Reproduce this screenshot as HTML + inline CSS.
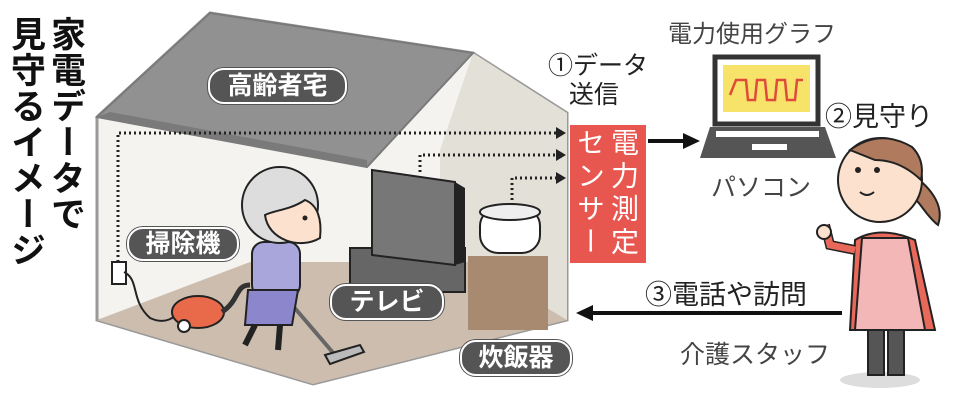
<!DOCTYPE html>
<html><head><meta charset="utf-8"><style>
body{margin:0;width:957px;height:400px;background:#fff;overflow:hidden;position:relative;font-family:"Liberation Sans","Noto Sans CJK JP",sans-serif}
.t{position:absolute;white-space:nowrap;color:#222}
.v{position:absolute;writing-mode:vertical-rl;font-weight:bold;color:#111;font-size:35px;line-height:38px;letter-spacing:1px}
.s{position:absolute;writing-mode:vertical-rl;color:#fff;font-size:28px;line-height:30px;letter-spacing:5px;white-space:nowrap}
.pill{position:absolute;background:#555;color:#fff;border:2px solid #fff;box-shadow:0 0 0 1px #555;border-radius:16px;text-align:center;font-size:25px;font-weight:bold}
</style></head><body>
<svg width="957" height="400" style="position:absolute;left:0;top:0">
<polygon points="97,117 210,13 473,53 567,113 567,320 313,384 97,320" fill="#f4f3ef" stroke="#999" stroke-width="3"/>
<polygon points="473,53 567,113 567,320 440,320 440,150" fill="#e3e0d8"/>
<polygon points="97,320 250,262 470,262 567,320 313,384" fill="#cdbdae"/>
<polygon points="97,117 210,13 473,53 367,167" fill="#919191" stroke="#7a7a7a" stroke-width="2"/>
<polygon points="97,117 367,167 367,160 110,112" fill="#7a7a7a"/>
<g stroke="#222" stroke-width="3" stroke-dasharray="2,3" fill="none">
<polyline points="118,262 118,133 556,133"/>
<polyline points="420,172 420,155 556,155"/>
<polyline points="512,205 512,178 556,178"/>
</g>
<g fill="#222"><polygon points="556,127 566,133 556,139"/><polygon points="556,149 566,155 556,161"/><polygon points="556,172 566,178 556,184"/></g>
<rect x="112" y="262" width="14" height="22" fill="#fff" stroke="#222" stroke-width="2"/>
<path d="M124,272 C140,280 130,300 150,318 C165,325 175,318 180,310" stroke="#222" stroke-width="2" fill="none"/>
<ellipse cx="198" cy="312" rx="26" ry="16" fill="#e86a4a" stroke="#222" stroke-width="2"/>
<circle cx="184" cy="326" r="6" fill="#fff" stroke="#222" stroke-width="2"/>
<path d="M222,312 C240,300 235,285 250,285" stroke="#333" stroke-width="5" fill="none"/>
<line x1="275" y1="285" x2="335" y2="355" stroke="#666" stroke-width="4"/>
<polygon points="325,355 360,345 364,352 330,364" fill="#bbb" stroke="#222" stroke-width="2"/>
<rect x="252" y="242" width="48" height="55" rx="12" fill="#a9a6dc" stroke="#222" stroke-width="2"/>
<path d="M248,290 L298,290 L292,325 L245,325 Z" fill="#8c87cc" stroke="#222" stroke-width="2"/>
<line x1="255" y1="325" x2="245" y2="345" stroke="#222" stroke-width="6"/>
<line x1="280" y1="325" x2="278" y2="350" stroke="#222" stroke-width="6"/>
<circle cx="280" cy="205" r="38" fill="#ddd" stroke="#222" stroke-width="2"/>
<path d="M265,215 C268,240 300,250 320,238 C322,220 318,205 305,200 C290,210 275,210 265,215Z" fill="#fce1cf" stroke="#222" stroke-width="2"/>
<circle cx="305" cy="218" r="2.5" fill="#222"/>
<rect x="350" y="248" width="115" height="44" fill="#666" stroke="#222" stroke-width="2"/>
<polygon points="372,170 455,182 455,265 372,255" fill="#777" stroke="#222" stroke-width="2"/>
<polygon points="455,182 465,188 465,262 455,265" fill="#222"/>
<rect x="468" y="256" width="80" height="74" fill="#a88a70"/>
<rect x="480" y="208" width="60" height="45" rx="18" fill="#fff" stroke="#222" stroke-width="2"/>
<ellipse cx="510" cy="212" rx="30" ry="8" fill="#eee" stroke="#222" stroke-width="2"/>
<rect x="570" y="125" width="76" height="138" fill="#e8574f"/>
<line x1="648" y1="141" x2="683" y2="141" stroke="#111" stroke-width="4"/>
<polygon points="683,133 700,141 683,149" fill="#111"/>
<line x1="842" y1="313" x2="593" y2="313" stroke="#111" stroke-width="4"/>
<polygon points="593,305 576,313 593,321" fill="#111"/>
<rect x="715" y="57" width="103" height="67" fill="#fff" stroke="#333" stroke-width="5"/>
<rect x="723" y="65" width="87" height="47" fill="#f7e36a"/>
<path d="M730,95 L736,80 L746,80 L748,100 L755,100 L757,80 L765,80 L767,100 L775,100 L777,80 L785,80 L787,100 L795,100 L797,80 L803,80" stroke="#e04a3a" stroke-width="2.5" fill="none"/>
<polygon points="710,127 825,127 836,158 700,158" fill="#555"/>
<rect x="716" y="131" width="103" height="6" fill="#fff"/>
<rect x="752" y="144" width="35" height="6" fill="#fff"/>
<ellipse cx="880" cy="380" rx="40" ry="8" fill="#ddd"/>
<rect x="868" y="320" width="16" height="55" fill="#555" stroke="#222" stroke-width="2"/>
<rect x="888" y="320" width="16" height="55" fill="#555" stroke="#222" stroke-width="2"/>
<path d="M855,240 Q880,225 915,240 L935,330 L850,330 Z" fill="#e8685a" stroke="#222" stroke-width="2"/>
<path d="M862,238 L908,238 L925,330 L855,330 Z" fill="#f4b7b7" stroke="#222" stroke-width="2"/>
<path d="M855,250 L830,245 L825,225" stroke="#222" stroke-width="10" fill="none"/>
<path d="M855,250 L830,245 L825,225" stroke="#e8685a" stroke-width="7" fill="none"/>
<circle cx="824" cy="232" r="7" fill="#fce1cf" stroke="#222" stroke-width="2"/>
<path d="M905,170 C930,185 945,205 938,225 C925,215 920,200 905,190Z" fill="#b07a5f" stroke="#222" stroke-width="2"/>
<circle cx="880" cy="180" r="42" fill="#fce1cf" stroke="#222" stroke-width="2"/>
<path d="M850,150 Q880,128 912,147 Q925,160 921,180 Q900,160 875,160Z" fill="#b07a5f" stroke="#222" stroke-width="2"/>
<circle cx="858" cy="170" r="3" fill="#222"/><circle cx="877" cy="170" r="3" fill="#222"/>
<path d="M860,192 Q867,198 874,192" stroke="#222" stroke-width="2" fill="none"/>
</svg>
<div class="v" style="left:46px;top:16px">家電データで</div>
<div class="v" style="left:6px;top:16px">見守るイメージ</div>
<div class="pill" style="left:208px;top:68px;width:135px;height:32px;line-height:32px">高齢者宅</div>
<div class="pill" style="left:127px;top:227px;width:108px;height:30px;line-height:30px">掃除機</div>
<div class="pill" style="left:330px;top:284px;width:110px;height:32px;line-height:32px">テレビ</div>
<div class="pill" style="left:460px;top:340px;width:108px;height:32px;line-height:32px">炊飯器</div>
<div class="s" style="left:608px;top:128px">電力測定</div>
<div class="s" style="left:574px;top:128px">センサー</div>
<div class="t" style="left:548px;top:52px;font-size:25px;line-height:29px">①データ<br>&nbsp;&nbsp;&nbsp;送信</div>
<div class="t" style="left:668px;top:14px;font-size:24px;color:#444">電力使用グラフ</div>
<div class="t" style="left:711px;top:168px;font-size:25px;color:#444">パソコン</div>
<div class="t" style="left:825px;top:95px;font-size:27px">②見守り</div>
<div class="t" style="left:645px;top:273px;font-size:27px">③電話や訪問</div>
<div class="t" style="left:680px;top:335px;font-size:25px;color:#444">介護スタッフ</div>
</body></html>
